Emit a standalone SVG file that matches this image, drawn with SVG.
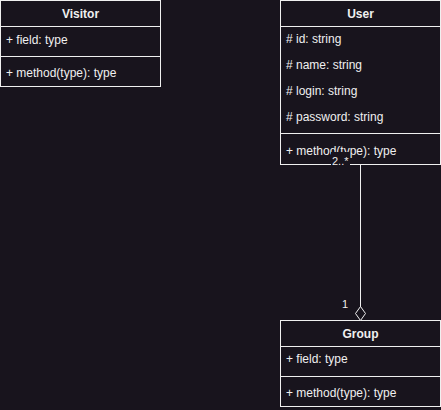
<svg xmlns="http://www.w3.org/2000/svg" width="441" height="410" viewBox="0 0 441 410">
  <style>
    .box { fill: #18141d; stroke: #f0f0f0; stroke-width: 1; }
    .sep { stroke: #f0f0f0; stroke-width: 1; fill: none; }
    text { font-family: "Liberation Sans", Arial, Helvetica, sans-serif; font-size: 12px; fill: #f0f0f0; }
    .title { font-weight: bold; text-anchor: middle; }
    .lbl { font-size: 11px; }
    .edge { stroke: #f0f0f0; stroke-width: 1; fill: none; }
  </style>
  <defs>
    <marker id="aggregation" viewBox="0 0 16 12" refX="15" refY="6" markerWidth="16" markerHeight="12" markerUnits="userSpaceOnUse" orient="auto">
      <path d="M1 6 L8 1 L15 6 L8 11 Z" fill="#18141d" stroke="#f0f0f0" stroke-width="1"/>
    </marker>
  </defs>
  <rect width="441" height="410" fill="#18141d"/>

  <g id="Visitor">
    <rect class="box" x="0.5" y="0.5" width="160" height="86"/>
    <line class="sep" x1="0.5" y1="26.5" x2="160.5" y2="26.5"/>
    <line class="sep" x1="0.5" y1="56.5" x2="160.5" y2="56.5"/>
    <text class="title" x="80.5" y="18">Visitor</text>
    <text x="6" y="44">+ field: type</text>
    <text x="6" y="77">+ method(type): type</text>
  </g>

  <g id="User">
    <rect class="box" x="280.5" y="0.5" width="160" height="164"/>
    <line class="sep" x1="280.5" y1="26.5" x2="440.5" y2="26.5"/>
    <line class="sep" x1="280.5" y1="133.5" x2="440.5" y2="133.5"/>
    <text class="title" x="360.5" y="18">User</text>
    <text x="286" y="43"># id: string</text>
    <text x="286" y="69"># name: string</text>
    <text x="286" y="95"># login: string</text>
    <text x="286" y="121"># password: string</text>
    <text x="286" y="155">+ method(type): type</text>
  </g>

  <g id="Group">
    <rect class="box" x="280.5" y="320.5" width="160" height="86"/>
    <line class="sep" x1="280.5" y1="346.5" x2="440.5" y2="346.5"/>
    <line class="sep" x1="280.5" y1="376.5" x2="440.5" y2="376.5"/>
    <text class="title" x="360.5" y="338">Group</text>
    <text x="286" y="363">+ field: type</text>
    <text x="286" y="397">+ method(type): type</text>
  </g>

  <g id="connectors">
    <path class="edge" d="M360.5 164.5 L360.5 320.5" marker-end="url(#aggregation)"/>
    <!-- source multiplicity label sits on an opaque patch over the class border -->
    <rect x="331" y="152" width="19" height="14" fill="#18141d"/>
    <text class="lbl" x="332" y="165">2..*</text>
    <text class="lbl" x="342" y="308">1</text>
  </g>
</svg>
